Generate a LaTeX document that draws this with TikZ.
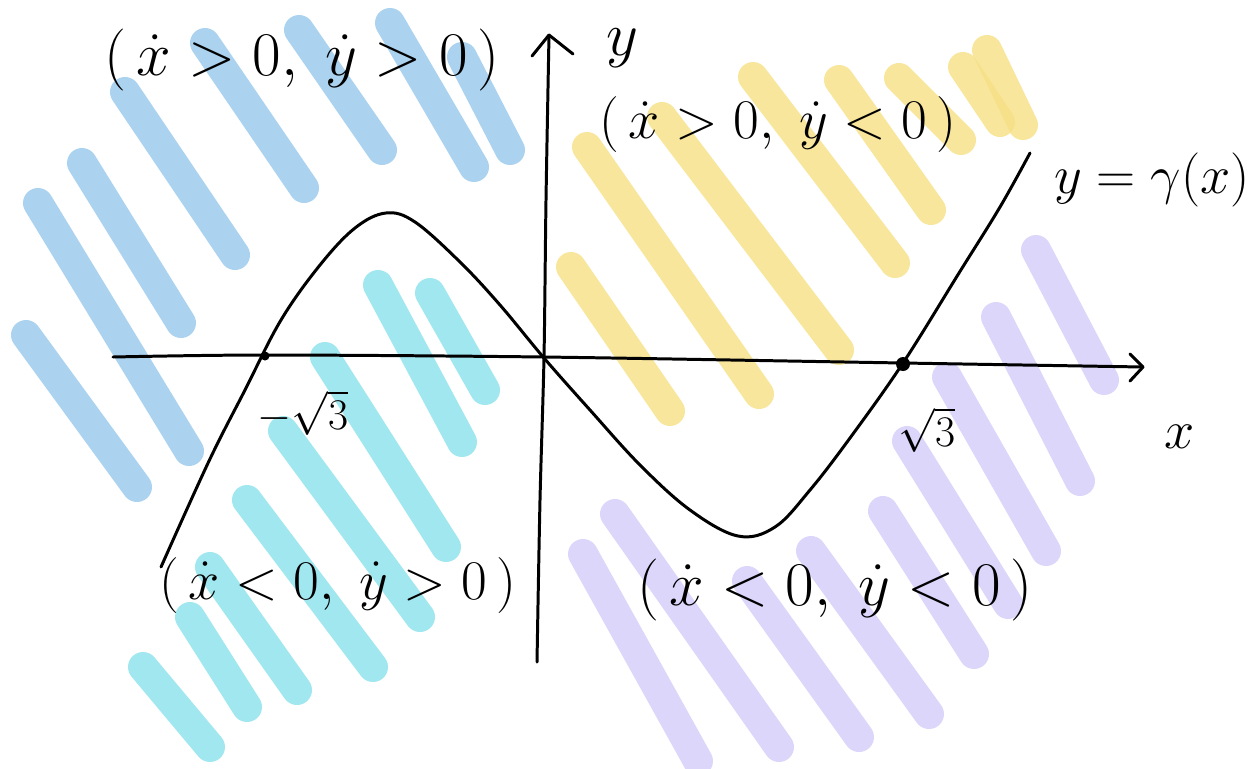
\documentclass[tikz,border=0pt]{standalone}
\usetikzlibrary{calc}
\definecolor{hblue}{HTML}{96C8EC}
\definecolor{hcyan}{HTML}{89E1EB}
\definecolor{hyellow}{HTML}{F6E085}
\definecolor{hpurple}{HTML}{D3CCFA}
\tikzset{
  hatch/.style={line width=0.6cm, line cap=round, draw opacity=0.8},
  ink/.style={line width=1.7pt, line cap=round, line join=round, draw=black},
  biglbl/.style={inner sep=0pt, font=\Huge, scale=1.42},
  lbl/.style={inner sep=0pt, font=\Huge, scale=1.28},
  midlbl/.style={inner sep=0pt, font=\Huge, scale=1.24},
  smalllbl/.style={inner sep=0pt, font=\Huge},
}
\begin{document}
\begin{tikzpicture}[x=0.02cm, y=-0.02cm]
\useasboundingbox (0,0) rectangle (1260,768);
% blue hatching
\draw[hatch, draw=hblue] (125,92) -- (235,255);
\draw[hatch, draw=hblue] (205,43) -- (304,188);
\draw[hatch, draw=hblue] (299,30) -- (382,150);
\draw[hatch, draw=hblue] (390,23) -- (474,167);
\draw[hatch, draw=hblue] (462,57) -- (510,150);
\draw[hatch, draw=hblue] (82,163) -- (181,323);
\draw[hatch, draw=hblue] (38,203) -- (189,451);
\draw[hatch, draw=hblue] (26,335) -- (137,487);
% cyan hatching
\draw[hatch, draw=hcyan] (378,285) -- (462,442);
\draw[hatch, draw=hcyan] (430,293) -- (485,390);
\draw[hatch, draw=hcyan] (325,357) -- (446,547);
\draw[hatch, draw=hcyan] (283,431) -- (420,617);
\draw[hatch, draw=hcyan] (247,500) -- (373,667);
\draw[hatch, draw=hcyan] (210,567) -- (297,690);
\draw[hatch, draw=hcyan] (190,617) -- (247,707);
\draw[hatch, draw=hcyan] (143,667) -- (210,747);
% yellow hatching
\draw[hatch, draw=hyellow] (587,147) -- (759,394);
\draw[hatch, draw=hyellow] (571,267) -- (670,411);
\draw[hatch, draw=hyellow] (662,117) -- (839,350);
\draw[hatch, draw=hyellow] (753,77) -- (895,263);
\draw[hatch, draw=hyellow] (839,80) -- (931,210);
\draw[hatch, draw=hyellow] (899,78) -- (961,140);
\draw[hatch, draw=hyellow] (963,67) -- (1000,122);
\draw[hatch, draw=hyellow] (987,50) -- (1023,125);
% purple hatching
\draw[hatch, draw=hpurple] (1036,250) -- (1104,380);
\draw[hatch, draw=hpurple] (996,317) -- (1080,481);
\draw[hatch, draw=hpurple] (947,377) -- (1046,551);
\draw[hatch, draw=hpurple] (907,441) -- (1008,604);
\draw[hatch, draw=hpurple] (883,511) -- (974,654);
\draw[hatch, draw=hpurple] (811,551) -- (929,714);
\draw[hatch, draw=hpurple] (747,581) -- (859,737);
\draw[hatch, draw=hpurple] (615,514) -- (779,747);
\draw[hatch, draw=hpurple] (583,554) -- (698,761);
% axes
\coordinate (xt) at (1143,367);
\coordinate (yt) at (549,35);
\draw[ink] plot[smooth, tension=0.5] coordinates {(113,357) (265,355) (543,357) (903,363) (1143,367)};
\draw[ink] (1130,354) -- (xt) -- (1130,381);
\draw[ink] plot[smooth, tension=0.5] coordinates {(537,662) (540,500) (544,357) (546,200) (549,35)};
\draw[ink] (532,56) -- (yt) -- (573,54);
% curve y = f(x)
\draw[ink] plot[smooth, tension=0.6] coordinates {(161,567) (209,461) (245,390) (281,320) (320,265) (355,228) (386,213) (415,222) (460,262) (500,305) (544,358) (590,410) (640,465) (690,510) (738,536) (775,527) (810,490) (850,438) (903,363) (959,273) (1000,207) (1030,153)};
\fill (265,356) circle[radius=4.5];
\fill (903,364) circle[radius=7];
% labels
\node[biglbl] (q1) at (302,60) {$(\,\dot{x}>0,\;\dot{y}>0\,)$};
\node[lbl] (q4) at (778,125) {$(\,\dot{x}>0,\;\dot{y}<0\,)$};
\node[lbl] (q2) at (338,585) {$(\,\dot{x}<0,\;\dot{y}>0\,)$};
\node[biglbl] (q3) at (835,590) {$(\,\dot{x}<0,\;\dot{y}<0\,)$};
\node[biglbl] (ylab) at (622,48) {$y$};
\node[midlbl] (xlab) at (1180,437) {$x$};
\node[midlbl] (curvelab) at (1152,180) {$y=\gamma(x)$};
\node[smalllbl] (msq) at (303,413) {$-\sqrt{3}$};
\node[smalllbl] (psq) at (927,430) {$\sqrt{3}$};
\end{tikzpicture}
\end{document}
